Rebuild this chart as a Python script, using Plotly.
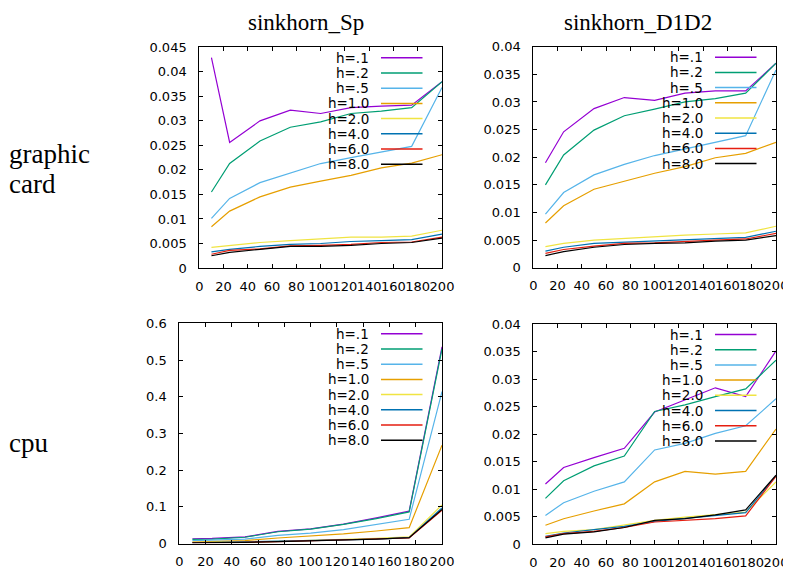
import plotly.graph_objects as go

W, H = 791, 570
OFF = 8  # page body margin of the browser, in pixels

# ---------------- data ----------------
x_sizes = [10, 25, 50, 75, 100, 125, 150, 175, 200]
h_labels = ["h=.1", "h=.2", "h=.5", "h=1.0", "h=2.0", "h=4.0", "h=6.0", "h=8.0"]
col_titles = ["sinkhorn_Sp", "sinkhorn_D1D2"]
row_titles = [["graphic", "card"], ["cpu"]]
x_ticks = [0, 20, 40, 60, 80, 100, 120, 140, 160, 180, 200]

# graphic card, sinkhorn_Sp
gpu_sp_01 = [0.0429, 0.0256, 0.0300, 0.0322, 0.0315, 0.0327, 0.0330, 0.0332, 0.0380]
gpu_sp_02 = [0.0155, 0.0213, 0.0259, 0.0287, 0.0298, 0.0315, 0.0320, 0.0327, 0.0380]
gpu_sp_05 = [0.0101, 0.0142, 0.0174, 0.0194, 0.0213, 0.0225, 0.0237, 0.0248, 0.0368]
gpu_sp_10 = [0.0084, 0.0116, 0.0145, 0.0165, 0.0177, 0.0189, 0.0204, 0.0214, 0.0231]
gpu_sp_20 = [0.0042, 0.0046, 0.0052, 0.0056, 0.0059, 0.0063, 0.0063, 0.0065, 0.0077]
gpu_sp_40 = [0.0033, 0.0038, 0.0044, 0.0048, 0.0050, 0.0054, 0.0056, 0.0058, 0.0069]
gpu_sp_60 = [0.0028, 0.0036, 0.0039, 0.0045, 0.0046, 0.0048, 0.0052, 0.0053, 0.0063]
gpu_sp_80 = [0.0025, 0.0032, 0.0038, 0.0044, 0.0044, 0.0046, 0.0050, 0.0052, 0.0061]

# graphic card, sinkhorn_D1D2
gpu_d_01 = [0.0190, 0.0246, 0.0288, 0.0308, 0.0303, 0.0316, 0.0320, 0.0320, 0.0370]
gpu_d_02 = [0.0150, 0.0204, 0.0249, 0.0275, 0.0287, 0.0300, 0.0306, 0.0316, 0.0370]
gpu_d_05 = [0.0097, 0.0136, 0.0168, 0.0187, 0.0203, 0.0215, 0.0228, 0.0239, 0.0358]
gpu_d_10 = [0.0081, 0.0112, 0.0142, 0.0157, 0.0171, 0.0183, 0.0199, 0.0207, 0.0227]
gpu_d_20 = [0.0038, 0.0044, 0.0050, 0.0053, 0.0057, 0.0059, 0.0061, 0.0063, 0.0075]
gpu_d_40 = [0.0030, 0.0037, 0.0044, 0.0046, 0.0048, 0.0051, 0.0053, 0.0055, 0.0066]
gpu_d_60 = [0.0026, 0.0033, 0.0039, 0.0044, 0.0045, 0.0048, 0.0050, 0.0052, 0.0062]
gpu_d_80 = [0.0022, 0.0029, 0.0037, 0.0042, 0.0044, 0.0045, 0.0048, 0.0050, 0.0058]

# cpu, sinkhorn_Sp
cpu_sp_01 = [0.013, 0.014, 0.018, 0.033, 0.040, 0.053, 0.070, 0.088, 0.536]
cpu_sp_02 = [0.011, 0.012, 0.017, 0.032, 0.039, 0.052, 0.068, 0.086, 0.530]
cpu_sp_05 = [0.008, 0.009, 0.012, 0.022, 0.028, 0.038, 0.052, 0.066, 0.414]
cpu_sp_10 = [0.004, 0.005, 0.008, 0.015, 0.020, 0.026, 0.034, 0.043, 0.268]
cpu_sp_20 = [0.003, 0.003, 0.004, 0.006, 0.008, 0.010, 0.014, 0.018, 0.105]
cpu_sp_40 = [0.002, 0.003, 0.004, 0.005, 0.007, 0.009, 0.012, 0.016, 0.097]
cpu_sp_60 = [0.002, 0.002, 0.003, 0.005, 0.007, 0.009, 0.012, 0.015, 0.091]
cpu_sp_80 = [0.002, 0.002, 0.003, 0.005, 0.007, 0.009, 0.012, 0.016, 0.093]

# cpu, sinkhorn_D1D2
cpu_d_01 = [0.0109, 0.0139, 0.0157, 0.0174, 0.0240, 0.0262, 0.0284, 0.0268, 0.0351]
cpu_d_02 = [0.0083, 0.0115, 0.0142, 0.0160, 0.0241, 0.0253, 0.0268, 0.0282, 0.0334]
cpu_d_05 = [0.0052, 0.0075, 0.0096, 0.0113, 0.0171, 0.0183, 0.0201, 0.0215, 0.0264]
cpu_d_10 = [0.0034, 0.0046, 0.0060, 0.0073, 0.0113, 0.0132, 0.0127, 0.0132, 0.0209]
cpu_d_20 = [0.0019, 0.0023, 0.0026, 0.0034, 0.0043, 0.0049, 0.0054, 0.0058, 0.0113]
cpu_d_40 = [0.0014, 0.0020, 0.0026, 0.0032, 0.0041, 0.0046, 0.0052, 0.0057, 0.0124]
cpu_d_60 = [0.0013, 0.0019, 0.0023, 0.0030, 0.0040, 0.0043, 0.0046, 0.0051, 0.0123]
cpu_d_80 = [0.0011, 0.0018, 0.0022, 0.0030, 0.0043, 0.0046, 0.0053, 0.0062, 0.0125]

panels = [
    [gpu_sp_01, gpu_sp_02, gpu_sp_05, gpu_sp_10, gpu_sp_20, gpu_sp_40, gpu_sp_60, gpu_sp_80],
    [gpu_d_01, gpu_d_02, gpu_d_05, gpu_d_10, gpu_d_20, gpu_d_40, gpu_d_60, gpu_d_80],
    [cpu_sp_01, cpu_sp_02, cpu_sp_05, cpu_sp_10, cpu_sp_20, cpu_sp_40, cpu_sp_60, cpu_sp_80],
    [cpu_d_01, cpu_d_02, cpu_d_05, cpu_d_10, cpu_d_20, cpu_d_40, cpu_d_60, cpu_d_80],
]
y_ranges = [[0, 0.045], [0, 0.04], [0, 0.6], [0, 0.04]]
y_dticks = [0.005, 0.005, 0.1, 0.005]

# ---------------- style ----------------
colors = ["#9400d3", "#009e73", "#56b4e9", "#e69f00",
          "#f0e442", "#0072b2", "#e51e10", "#000000"]
# pixel boxes of the panels in the window: left, right, top, bottom
boxes = [(199.3, 442, 47.3, 268), (533.3, 776, 46.7, 267.7),
         (179.3, 442, 323.3, 543.5), (533.3, 776, 324, 544)]

TICK_FONT = dict(family="DejaVu Sans", size=13, color="#000000")
TITLE_FONT = dict(family="Liberation Serif", size=23, color="#000000")
ROW_FONT = dict(family="Liberation Serif", size=27, color="#000000")

def px(x):
    return (x - OFF) / W

def py(y):
    return 1 - (y - OFF) / H

fig = go.Figure()
layout = dict(
    width=W, height=H,
    margin=dict(l=0, r=0, t=0, b=0, autoexpand=False),
    paper_bgcolor="white", plot_bgcolor="white",
    showlegend=False,
)
shapes = []
annotations = []

for i, (series_list, box) in enumerate(zip(panels, boxes)):
    k = "" if i == 0 else str(i + 1)
    l, r, t, b = box
    for lab, vals, c in zip(h_labels, series_list, colors):
        fig.add_trace(go.Scatter(
            x=x_sizes, y=vals, mode="lines", name=lab,
            line=dict(color=c, width=1.2),
            xaxis="x" + k, yaxis="y" + k,
        ))
    common = dict(showline=True, linecolor="black", linewidth=1, mirror="ticks",
                  ticks="inside", ticklen=4, tickcolor="black", showgrid=False,
                  zeroline=False, tickfont=TICK_FONT, automargin=False)
    layout["xaxis" + k] = dict(common, domain=[px(l), px(r)], anchor="y" + k,
                               range=[0, 200], tickvals=x_ticks, tickangle=0,
                               ticklabelstandoff=6)
    layout["yaxis" + k] = dict(common, domain=[py(b), py(t)], anchor="x" + k,
                               range=y_ranges[i], dtick=y_dticks[i], tick0=0,
                               ticklabelstandoff=9)
    # gnuplot-style key: right-aligned text, sample line on its right
    for j, (lab, c) in enumerate(zip(h_labels, colors)):
        yy = t + 10.5 + 15.2 * j
        annotations.append(dict(
            x=px(r - 71), y=py(yy), xref="paper", yref="paper",
            text=lab, showarrow=False, xanchor="right", yanchor="middle",
            font=dict(family="DejaVu Sans", size=13.5, color="#000000"),
        ))
        shapes.append(dict(
            type="line", xref="paper", yref="paper",
            x0=px(r - 61), x1=px(r - 19.5), y0=py(yy), y1=py(yy),
            line=dict(color=c, width=1.5),
        ))

for title, cx in zip(col_titles, [306, 638]):
    annotations.append(dict(x=px(cx), y=1, xref="paper", yref="paper",
                            text=title, showarrow=False, xanchor="center",
                            yanchor="top", font=TITLE_FONT))
for lines, cy in zip(row_titles, [154, 443]):
    for n, line in enumerate(lines):
        annotations.append(dict(x=px(7), y=py(cy + 30 * n), xref="paper", yref="paper",
                                text=line, showarrow=False, xanchor="left",
                                yanchor="middle", align="left", font=ROW_FONT))

layout["shapes"] = shapes
layout["annotations"] = annotations
fig.update_layout(**layout)
fig.write_html("out.html")
